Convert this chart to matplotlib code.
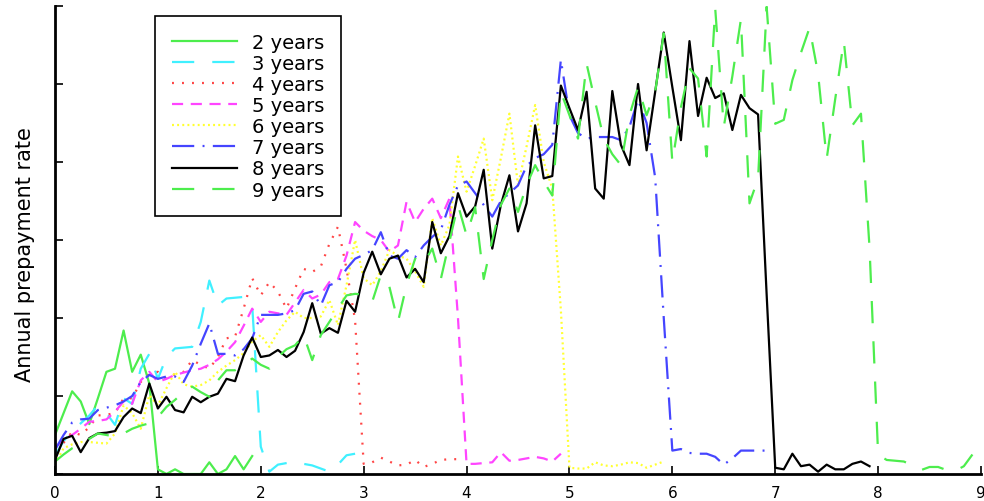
import numpy as np
import matplotlib
matplotlib.use("Agg")
import matplotlib.pyplot as plt

plt.rcParams['font.family'] = ['DejaVu Sans']
plt.rcParams['lines.scale_dashes'] = False

labels = ["2 years", "3 years", "4 years", "5 years", "6 years", "7 years", "8 years", "9 years"]

y2 = [0.5, 0.78, 1.06, 0.93, 0.64, 0.97, 1.31, 1.35, 1.84, 1.31, 1.53, 1.16,
      0.06, 0.0, 0.06, 0.0, 0.0, 0.0, 0.15, 0.0, 0.06, 0.23, 0.06, 0.23]

y3 = [0.24, 0.42, 0.56, 0.65, 0.75, 0.88, 0.78, 0.63, 0.97, 0.9, 1.35, 1.54,
      1.22, 1.5, 1.61, 1.62, 1.63, 1.95, 2.48, 2.16, 2.25, 2.26, 2.27, 2.16,
      0.35, 0.03, 0.12, 0.14, 0.16, 0.13, 0.11, 0.07, 0.03, 0.12, 0.24, 0.26]

y4 = [0.33, 0.4, 0.54, 0.5, 0.6, 0.75, 0.76, 0.78, 0.97, 0.97, 1.18, 1.28,
      1.31, 1.22, 1.28, 1.31, 1.46, 1.4, 1.35, 1.5, 1.74, 1.76, 2.12, 2.51,
      2.29, 2.46, 2.34, 2.12, 2.38, 2.63, 2.59, 2.66, 2.95, 3.17, 2.63, 1.97,
      0.13, 0.15, 0.21, 0.16, 0.11, 0.12, 0.18, 0.09, 0.13, 0.18, 0.19, 0.19]

y5 = [0.33, 0.45, 0.5, 0.58, 0.67, 0.68, 0.7, 0.8, 0.93, 0.9, 1.2, 1.31,
      1.18, 1.22, 1.27, 1.3, 1.33, 1.35, 1.4, 1.47, 1.57, 1.69, 1.9, 2.12,
      1.95, 2.08, 2.06, 2.04, 2.2, 2.36, 2.25, 2.3, 2.46, 2.5, 2.8, 3.23,
      3.12, 3.05, 3.0, 2.85, 2.93, 3.49, 3.23, 3.4, 3.53, 3.28, 3.53, 2.0,
      0.13, 0.13, 0.14, 0.15, 0.28, 0.17, 0.18, 0.2, 0.22, 0.2, 0.16, 0.26]

y6 = [0.13, 0.33, 0.38, 0.41, 0.41, 0.4, 0.39, 0.52, 0.88, 0.78, 0.58, 1.01,
      0.88, 1.1, 1.31, 1.15, 1.12, 1.14, 1.2, 1.31, 1.39, 1.46, 1.55, 1.7,
      1.78, 1.63, 1.82, 1.97, 2.08, 2.0, 2.0, 2.02, 2.23, 1.91, 2.42, 3.0,
      2.51, 2.42, 2.6, 2.87, 2.8, 2.76, 2.6, 2.4, 3.28, 2.93, 3.19, 4.07,
      3.62, 3.95, 4.3, 3.51, 4.05, 4.62, 3.7, 4.2, 4.73, 4.0, 3.66, 2.1,
      0.08, 0.07, 0.07, 0.15, 0.11, 0.1, 0.12, 0.15, 0.14, 0.08, 0.12, 0.16]

y7 = [0.31, 0.5, 0.66, 0.7, 0.71, 0.82, 0.85, 0.88, 0.93, 1.0, 1.18, 1.27,
      1.22, 1.25, 1.25, 1.18, 1.39, 1.67, 1.93, 1.54, 1.54, 1.52, 1.6, 1.74,
      2.04, 2.04, 2.04, 2.06, 2.1, 2.31, 2.34, 2.16, 2.42, 2.46, 2.63, 2.76,
      2.81, 2.87, 3.1, 2.8, 2.76, 2.87, 2.78, 2.93, 3.04, 3.13, 3.45, 3.7,
      3.75, 3.6, 3.45, 3.3, 3.5, 3.6, 3.7, 3.95, 4.05, 4.1, 4.22, 5.31,
      4.6, 4.37, 4.3, 4.32, 4.32, 4.32, 4.28, 4.45, 4.8, 4.5, 3.8, 2.0,
      0.3, 0.32, 0.27, 0.26, 0.26, 0.22, 0.12, 0.2, 0.3, 0.3, 0.3, 0.3]

y8 = [0.18, 0.45, 0.49, 0.28, 0.46, 0.52, 0.53, 0.55, 0.73, 0.84, 0.78, 1.16,
      0.84, 0.99, 0.82, 0.79, 0.99, 0.92, 0.99, 1.03, 1.22, 1.19, 1.52, 1.75,
      1.5, 1.52, 1.59, 1.5, 1.58, 1.82, 2.19, 1.8, 1.87, 1.81, 2.22, 2.08,
      2.58, 2.85, 2.56, 2.76, 2.8, 2.52, 2.63, 2.46, 3.23, 2.83, 3.05, 3.6,
      3.3, 3.43, 3.9, 2.89, 3.45, 3.83, 3.11, 3.47, 4.47, 3.79, 3.82, 4.98,
      4.69, 4.41, 4.9, 3.66, 3.53, 4.91, 4.22, 3.96, 5.0, 4.15, 4.9, 5.66,
      4.96, 4.28, 5.55, 4.59, 5.08, 4.82, 4.88, 4.41, 4.86, 4.69, 4.61, 2.3,
      0.08, 0.06, 0.26, 0.1, 0.12, 0.03, 0.12, 0.06, 0.06, 0.13, 0.16, 0.1]

y9 = [0.16, 0.25, 0.33, 0.38, 0.45, 0.52, 0.5, 0.48, 0.52, 0.58, 0.62, 0.65,
      0.73, 0.86, 0.95, 1.05, 1.12, 1.05, 0.99, 1.2, 1.33, 1.33, 1.4, 1.48,
      1.4, 1.35, 1.5, 1.6, 1.65, 1.78, 1.46, 1.78, 1.95, 2.12, 2.29, 2.31,
      2.3, 2.21, 2.55, 2.4, 1.95, 2.42, 2.76, 2.7, 2.89, 2.5, 2.98, 3.45,
      3.06, 3.42, 2.5, 3.0, 3.45, 3.66, 3.36, 3.7, 3.96, 3.75, 3.57, 4.9,
      4.6, 4.3, 5.26, 4.77, 4.3, 4.1, 3.96, 4.6, 4.96, 4.6, 4.9, 5.65,
      4.0, 4.7, 5.2, 5.07, 4.07, 5.97, 4.45, 5.1, 5.83, 3.47, 3.79, 5.99,
      4.49, 4.54, 5.05, 5.4, 5.72, 5.13, 4.04, 4.81, 5.55, 4.47, 4.62, 2.9,
      0.25, 0.18, 0.17, 0.16, 0.11, 0.05, 0.09, 0.09, 0.05, 0.04, 0.1, 0.25]

series = [y2, y3, y4, y5, y6, y7, y8, y9]
colors = ['#4ded4d', '#40f0ff', '#ff4545', '#ff45ff', '#ffff30', '#4545ff', '#000000', '#4ded4d']
dashes = [None, (16, 13), (1.4, 5.8), (8, 5.5), (1.4, 2.3), (16, 6, 1.4, 6), None, (16, 13)]

fig = plt.figure(figsize=(9.84, 5.02), dpi=100)
ax = fig.add_axes([55/984, 1-475/502, 926/984, 468/502])

for ys, c, d, lab in zip(series, colors, dashes, labels):
    x = np.arange(len(ys)) / 12.0
    line, = ax.plot(x, ys, color=c, lw=1.6, label=lab)
    if d is not None:
        line.set_dashes(d)

ax.set_xlim(0, 9)
ax.set_ylim(0, 6)
ax.set_xticks(range(10))
ax.set_yticks(range(7))
ax.set_yticklabels([])
ax.tick_params(direction='in', length=6, width=1.2, labelsize=11, pad=8)
for s in ['top', 'right']:
    ax.spines[s].set_visible(False)
for s in ['left', 'bottom']:
    ax.spines[s].set_linewidth(2)
ax.set_ylabel("Annual prepayment rate", fontsize=15)
ax.yaxis.set_label_coords(-0.022, 0.472)

leg = ax.legend(loc='upper left', bbox_to_anchor=(100/926, (475-17)/468),
                fontsize=14, handlelength=3.35, handletextpad=0.8, labelspacing=0.11,
                borderpad=0.85, fancybox=False, framealpha=1, edgecolor='black',
                borderaxespad=0)
leg.get_frame().set_linewidth(1.2)

fig.savefig("out.png", dpi=100)
